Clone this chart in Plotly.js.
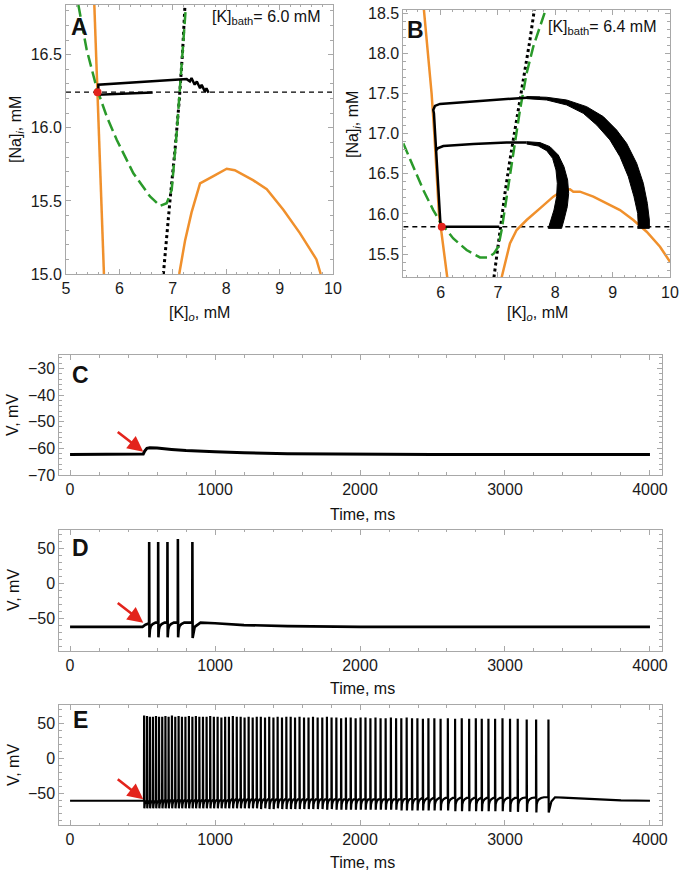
<!DOCTYPE html>
<html>
<head>
<meta charset="utf-8">
<script src="https://cdn.plot.ly/plotly-3.0.1.min.js"></script>
<style>
  html, body { margin: 0; padding: 0; background: #fff; }
  #plot { width: 685px; height: 876px; }
</style>
</head>
<body>
<div id="plot"></div>
<script>
// ---------- panel A : [K]bath = 6.0 mM ----------
const aOrangeLeftK  = [5.53, 5.563, 5.593, 5.632, 5.671, 5.71];
const aOrangeLeftNa = [16.84, 16.5, 16.2, 15.8, 15.4, 15.0];
const aOrangeRightK  = [7.12, 7.23, 7.35, 7.51, 7.76, 8.01, 8.16, 8.51, 8.76, 9.07, 9.38, 9.69, 9.77];
const aOrangeRightNa = [15.0, 15.23, 15.42, 15.62, 15.67, 15.72, 15.71, 15.64, 15.58, 15.44, 15.28, 15.10, 15.0];
const aGreenK  = [5.231, 5.387, 5.574, 5.762, 5.949, 6.261, 6.573, 6.760, 6.885, 6.979, 7.072, 7.166, 7.241];
const aGreenNa = [16.84, 16.534, 16.272, 16.078, 15.918, 15.689, 15.530, 15.466, 15.484, 15.575, 15.963, 16.42, 16.81];
const aDotK  = [6.823, 6.885, 6.948, 7.041, 7.122, 7.185, 7.228];
const aDotNa = [15.0, 15.279, 15.507, 15.849, 16.192, 16.534, 16.84];
const aRestNa = 16.244;
const aRestK = 5.59;
const aTrajK  = [6.623, 5.605, 5.605, 6.261, 7.135, 7.26, 7.32, 7.35, 7.41, 7.45, 7.51, 7.54, 7.60, 7.63, 7.67];
const aTrajNa = [16.242, 16.226, 16.295, 16.311, 16.333, 16.333, 16.317, 16.34, 16.295, 16.317, 16.27, 16.295, 16.249, 16.27, 16.24];

// ---------- panel B : [K]bath = 6.4 mM ----------
const bOrangeLeftK  = [5.709, 5.785, 5.843, 5.890, 5.930, 5.971, 6.017, 6.076, 6.116];
const bOrangeLeftNa = [18.541, 18.0, 17.50, 17.004, 16.505, 16.007, 15.758, 15.384, 15.209];
const bOrangeRightK  = [7.064, 7.134, 7.209, 7.326, 7.50, 7.733, 7.965, 8.14, 8.256, 8.314, 8.43, 8.663, 8.895, 9.128, 9.36, 9.593, 9.826, 10.0];
const bOrangeRightNa = [15.209, 15.425, 15.633, 15.799, 15.924, 16.069, 16.215, 16.298, 16.306, 16.277, 16.277, 16.215, 16.131, 16.048, 15.924, 15.778, 15.591, 15.404];
const bGreenK  = [5.349, 5.523, 5.698, 5.872, 5.988, 6.221, 6.453, 6.686, 6.831, 6.93, 7.006, 7.064, 7.151, 7.267, 7.384, 7.50, 7.616, 7.733, 7.831];
const bGreenNa = [16.879, 16.588, 16.298, 16.048, 15.903, 15.695, 15.55, 15.458, 15.458, 15.508, 15.591, 15.799, 16.215, 16.796, 17.295, 17.752, 18.084, 18.333, 18.541];
const bDotK  = [6.93, 6.977, 7.035, 7.122, 7.209, 7.297, 7.384, 7.471, 7.558, 7.634];
const bDotNa = [15.209, 15.467, 15.799, 16.256, 16.672, 17.045, 17.419, 17.752, 18.167, 18.541];
const bRestNa = 15.84;
const bRestK = 6.02;
const bBaseK  = [6.017, 7.023];
const bBaseNa = [15.841, 15.841];
const bUpperK  = [6.0, 5.959, 5.919, 5.884, 5.872, 5.901, 5.988, 6.57, 7.151, 7.50, 7.733];
const bUpperNa = [15.841, 16.381, 16.921, 17.253, 17.295, 17.345, 17.37, 17.399, 17.428, 17.448, 17.448];
const bMidK  = [5.930, 5.948, 6.047, 6.57, 7.151, 7.50];
const bMidNa = [16.796, 16.817, 16.846, 16.871, 16.888, 16.888];
// spiking bands (outer edge then inner edge)
const bArcOuterK  = [7.500, 7.849, 8.198, 8.547, 8.837, 9.070, 9.244, 9.419, 9.535, 9.605, 9.640, 9.640,
                     9.436, 9.448, 9.436, 9.372, 9.273, 9.128, 8.953, 8.721, 8.488, 8.198, 7.849, 7.500];
const bArcOuterNa = [17.461, 17.453, 17.419, 17.336, 17.212, 17.045, 16.879, 16.630, 16.381, 16.131, 15.924, 15.82,
                     15.82, 15.841, 16.007, 16.215, 16.464, 16.713, 16.921, 17.108, 17.253, 17.357, 17.419, 17.436];
const bArcInnerK  = [7.500, 7.733, 7.907, 8.052, 8.151, 8.215, 8.233, 8.209, 8.151, 8.110,
                     7.878, 7.919, 7.977, 8.023, 8.035, 8.012, 7.953, 7.849, 7.703, 7.500];
const bArcInnerNa = [16.900, 16.888, 16.838, 16.734, 16.588, 16.422, 16.256, 16.090, 15.924, 15.820,
                     15.820, 15.903, 16.048, 16.215, 16.381, 16.547, 16.692, 16.788, 16.846, 16.871];

// ---------- panel C : subthreshold ----------
const cTime = [0, 500, 505, 515, 530, 550, 600, 700, 800, 1000, 1200, 1500, 2000, 2500, 3000, 4000];
const cV    = [-62.3, -62.3, -62.1, -61.0, -60.0, -59.8, -59.9, -60.4, -60.8, -61.3, -61.7, -62.0, -62.2, -62.3, -62.3, -62.3];

// ---------- panel D : short burst ----------
const dPreT = [0, 500, 520, 540];
const dPreV = [-62, -62, -59, -57];
const dSpikeT = [545, 607, 671, 743, 843];
const dPeak   = [59, 59, 59, 63, 59];
const dTrough = [-77, -77, -77, -77, -78];
const dRecOff = [6, 12, 25, 45];
const dRecV   = [-66, -61, -58, -56];
const dTailT = [860, 900, 1000, 1200, 1500, 2000, 4000];
const dTailV = [-62, -56, -57, -59.5, -61, -62, -62];

// ---------- panel E : long burst ----------
const ePreT = [0, 500];
const ePreV = [-61, -61];
const eSpikeT = [510, 530, 550, 571, 592, 613, 635, 657, 679, 702, 725, 748, 771, 795, 819, 843, 867, 891, 916, 941,
                 966, 991, 1017, 1043, 1069, 1095, 1122, 1149, 1176, 1203, 1231, 1259, 1287, 1315, 1344, 1373, 1402, 1431, 1461, 1491,
                 1521, 1551, 1582, 1613, 1644, 1675, 1707, 1739, 1771, 1803, 1836, 1869, 1902, 1935, 1969, 2003, 2037, 2071, 2106, 2141,
                 2176, 2212, 2248, 2284, 2321, 2358, 2395, 2433, 2471, 2512, 2555, 2605, 2655, 2701, 2752, 2798, 2839, 2885, 2931, 2982,
                 3034, 3087, 3149, 3214, 3299];
const ePeak = [62, 61, 60, 60, 61, 60, 60, 61, 60, 62, 60, 61, 60, 60, 61, 60, 61, 60, 60, 60,
               61, 60, 60, 59, 60, 60, 61, 60, 60, 59, 60, 59, 60, 60, 59, 60, 59, 60, 59, 60,
               60, 59, 60, 59, 59, 60, 59, 59, 60, 59, 59, 58, 59, 59, 58, 59, 59, 58, 59, 58,
               58, 59, 58, 58, 59, 58, 58, 57, 58, 58, 57, 58, 57, 58, 57, 58, 57, 57, 57, 58,
               57, 57, 56, 56, 56];
const eTrough = [-72, -72, -72, -72, -72, -72, -72, -72, -72, -72, -72, -72, -72, -72, -72, -72, -72, -72, -72, -72,
                 -72, -72, -72, -72, -72, -72, -72, -72, -72, -72, -72, -72, -72, -73, -72, -73, -73, -72, -73, -73,
                 -73, -73, -73, -73, -73, -73, -73, -73, -74, -73, -74, -74, -74, -74, -74, -74, -74, -74, -74, -74,
                 -74, -74, -74, -75, -75, -75, -75, -75, -75, -75, -75, -75, -76, -76, -76, -76, -76, -76, -76, -76,
                 -77, -77, -77, -78, -78];
const eRecOff = [5, 10, 20, 35, 55];
const eRecV   = [-66, -62, -59, -57, -56];
const eTailT = [3320, 3345, 3400, 3600, 3800, 4000];
const eTailV = [-62, -56, -56.5, -59, -60.5, -61];

// stitch a voltage trace from the spike list
function spikeTrace(preT, preV, spikeT, peaks, troughs, recOff, recV, tailT, tailV) {
    const x = preT.slice(), y = preV.slice();
    spikeT.forEach((t, i) => {
        const last = i === spikeT.length - 1;
        const next = last ? Infinity : spikeT[i + 1];
        x.push(t, t + 0.8, t + 2.5);
        y.push(y[y.length - 1], peaks[i], troughs[i]);
        if (!last) {
            recOff.forEach((o, k) => {
                if (t + o < next - 1) { x.push(t + o); y.push(recV[k]); }
            });
        }
    });
    return { x: x.concat(tailT), y: y.concat(tailV) };
}

const ORANGE = '#f0902c', GREEN = '#2a9a2a', RED = '#e3241c';
const FONT = 'Liberation Sans, Arial, sans-serif';

function line(x, y, ax, color, width, dash) {
    return { x: x, y: y, xaxis: 'x' + ax, yaxis: 'y' + ax, type: 'scatter', mode: 'lines',
             line: { color: color, width: width, dash: dash || 'solid' }, hoverinfo: 'skip' };
}
function band(x, y, ax) {
    return { x: x, y: y, xaxis: 'x' + ax, yaxis: 'y' + ax, type: 'scatter', mode: 'lines',
             fill: 'toself', fillcolor: '#000', line: { color: '#000', width: 1 }, hoverinfo: 'skip' };
}
function dot(x, y, ax) {
    return { x: [x], y: [y], xaxis: 'x' + ax, yaxis: 'y' + ax, type: 'scatter', mode: 'markers',
             marker: { color: RED, size: 8 }, hoverinfo: 'skip' };
}

const dTr = spikeTrace(dPreT, dPreV, dSpikeT, dPeak, dTrough, dRecOff, dRecV, dTailT, dTailV);
const eTr = spikeTrace(ePreT, ePreV, eSpikeT, ePeak, eTrough, eRecOff, eRecV, eTailT, eTailV);

const traces = [
    // A
    line([5, 10], [aRestNa, aRestNa], '', '#000', 1.3, '5px,4px'),
    line(aOrangeLeftK, aOrangeLeftNa, '', ORANGE, 2.5),
    line(aOrangeRightK, aOrangeRightNa, '', ORANGE, 2.5),
    line(aDotK, aDotNa, '', '#000', 3, '3px,3px'),
    line(aGreenK, aGreenNa, '', GREEN, 2.5, '12px,5px'),
    line(aTrajK, aTrajNa, '', '#000', 2.5),
    dot(aRestK, aRestNa, ''),
    // B
    line([5.35, 10], [bRestNa, bRestNa], '2', '#000', 1.3, '5px,4px'),
    line(bOrangeLeftK, bOrangeLeftNa, '2', ORANGE, 2.5),
    line(bOrangeRightK, bOrangeRightNa, '2', ORANGE, 2.5),
    line(bDotK, bDotNa, '2', '#000', 3, '3px,3px'),
    line(bGreenK, bGreenNa, '2', GREEN, 2.5, '12px,5px'),
    line(bBaseK, bBaseNa, '2', '#000', 2.5),
    line(bUpperK, bUpperNa, '2', '#000', 2.5),
    line(bMidK, bMidNa, '2', '#000', 2.5),
    band(bArcOuterK, bArcOuterNa, '2'),
    band(bArcInnerK, bArcInnerNa, '2'),
    dot(bRestK, bRestNa, '2'),
    // C, D, E
    line(cTime, cV, '3', '#000', 3),
    line(dTr.x, dTr.y, '4', '#000', 2.6),
    line(eTr.x, eTr.y, '5', '#000', 2.2)
];
traces.forEach(t => { t.showlegend = false; });

function frame(extra) {
    return Object.assign({
        showline: true, linecolor: '#a8a8a8', linewidth: 1, mirror: 'allticks',
        ticks: 'inside', ticklen: 5, tickwidth: 1, tickcolor: '#a8a8a8',
        showgrid: false, zeroline: false, fixedrange: true,
        tickfont: { family: FONT, size: 16, color: '#1a1a1a' }
    }, extra);
}
const minorX = d => ({ ticks: 'inside', ticklen: 2.5, tickcolor: '#a8a8a8', dtick: d, showgrid: false });

function ann(x, y, text, size, extra) {
    return Object.assign({ xref: 'paper', yref: 'paper', x: x / 685, y: 1 - y / 876, text: text,
                           showarrow: false, xanchor: 'center', yanchor: 'middle',
                           font: { family: FONT, size: size, color: '#111' } }, extra || {});
}
function arrow(ax, x, y) {
    return { xref: 'x' + ax, yref: 'y' + ax, x: x, y: y, ax: -27, ay: -21, text: '', showarrow: true,
             arrowhead: 2, arrowsize: 1.2, arrowwidth: 2.6, arrowcolor: RED, standoff: 0 };
}

const layout = {
    width: 685, height: 876,
    margin: { l: 0, r: 0, t: 0, b: 0 },
    paper_bgcolor: '#fff', plot_bgcolor: '#fff',
    showlegend: false,
    xaxis:  frame({ domain: [0.0964, 0.4861], range: [5, 10], dtick: 1, anchor: 'y', minor: minorX(0.2) }),
    yaxis:  frame({ domain: [0.6872, 0.9943], range: [15, 16.84], tick0: 0, dtick: 0.5, tickformat: '.1f', anchor: 'x', minor: minorX(0.1) }),
    xaxis2: frame({ domain: [0.5888, 0.9781], range: [5.35, 10], tick0: 0, dtick: 1, anchor: 'y2', minor: minorX(0.2) }),
    yaxis2: frame({ domain: [0.6834, 0.9886], range: [15.21, 18.54], tick0: 0, dtick: 0.5, tickformat: '.1f', anchor: 'x2', minor: minorX(0.1) }),
    xaxis3: frame({ domain: [0.0866, 0.9660], range: [-74, 4081], tick0: 0, dtick: 1000, anchor: 'y3', minor: minorX(200) }),
    yaxis3: frame({ domain: [0.4578, 0.5947], range: [-70, -25], tick0: 0, dtick: 10, anchor: 'x3', minor: minorX(2) }),
    xaxis4: frame({ domain: [0.0866, 0.9660], range: [-74, 4081], tick0: 0, dtick: 1000, anchor: 'y4', minor: minorX(200) }),
    yaxis4: frame({ domain: [0.2572, 0.3950], range: [-96, 76], tick0: 0, dtick: 50, anchor: 'x4', minor: minorX(10) }),
    xaxis5: frame({ domain: [0.0866, 0.9660], range: [-74, 4081], tick0: 0, dtick: 1000, anchor: 'y5', minor: minorX(200) }),
    yaxis5: frame({ domain: [0.0582, 0.1952], range: [-96, 77], tick0: 0, dtick: 50, anchor: 'x5', minor: minorX(10) }),
    annotations: [
        // panel letters
        ann(79, 27, '<b>A</b>', 23),
        ann(415, 30, '<b>B</b>', 23),
        ann(80, 375, '<b>C</b>', 23),
        ann(80, 548, '<b>D</b>', 23),
        ann(80, 720, '<b>E</b>', 23),
        // bath concentration
        ann(266, 18, '[K]<sub>bath</sub>= 6.0 mM', 16),
        ann(602, 27, '[K]<sub>bath</sub>= 6.4 mM', 16),
        // axis titles
        ann(200, 314, '[K]<sub><i>o</i></sub>, mM', 16),
        ann(537, 314, '[K]<sub><i>o</i></sub>, mM', 16),
        ann(17, 130, '[Na]<sub><i>i</i></sub>, mM', 16, { textangle: -90 }),
        ann(354, 125, '[Na]<sub><i>i</i></sub>, mM', 16, { textangle: -90 }),
        ann(362, 514, 'Time, ms', 16),
        ann(362, 688, 'Time, ms', 16),
        ann(362, 862, 'Time, ms', 16),
        ann(13, 415, 'V, mV', 16, { textangle: -90 }),
        ann(13, 590, 'V, mV', 16, { textangle: -90 }),
        ann(13, 765, 'V, mV', 16, { textangle: -90 }),
        // stimulus arrows
        arrow('3', 505, -61.3),
        arrow('4', 505, -56.3),
        arrow('5', 505, -58.7)
    ]
};

Plotly.newPlot('plot', traces, layout, { staticPlot: true, displayModeBar: false });
</script>
</body>
</html>
